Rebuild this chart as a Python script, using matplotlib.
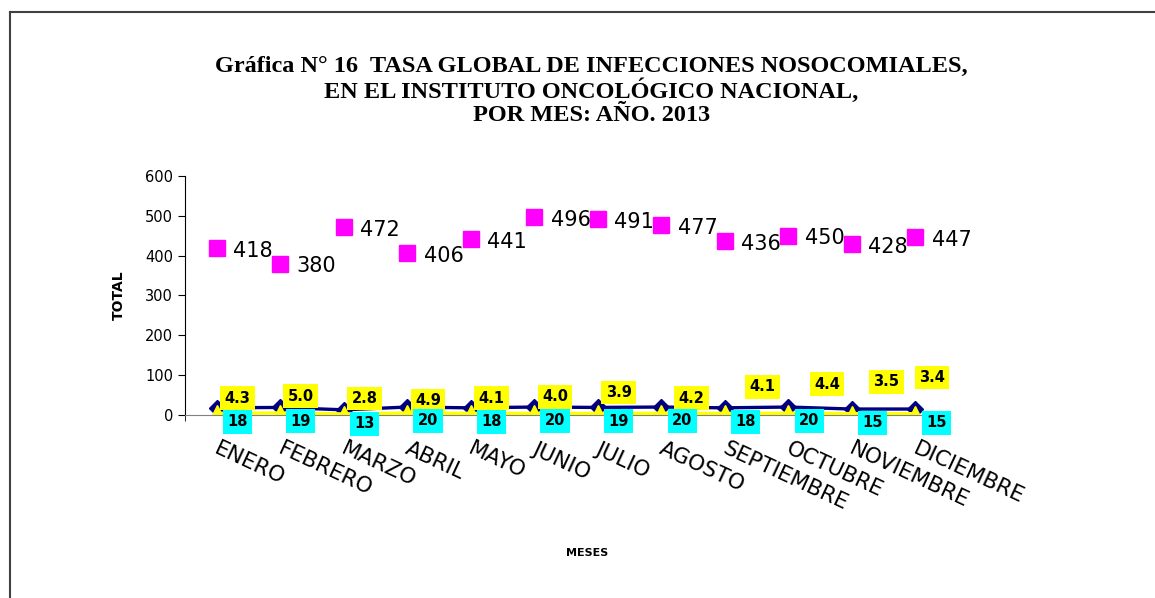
import numpy as np
import matplotlib
matplotlib.use("Agg")
import matplotlib.pyplot as plt
from matplotlib.lines import Line2D

meses = ["ENERO", "FEBRERO", "MARZO", "ABRIL", "MAYO", "JUNIO", "JULIO",
         "AGOSTO", "SEPTIEMBRE", "OCTUBRE", "NOVIEMBRE", "DICIEMBRE"]
egresos = [418, 380, 472, 406, 441, 496, 491, 477, 436, 450, 428, 447]
infecciones = [18, 19, 13, 20, 18, 20, 19, 20, 18, 20, 15, 15]
tasa = [4.3, 5.0, 2.8, 4.9, 4.1, 4.0, 3.9, 4.2, 4.1, 4.4, 3.5, 3.4]

# label offsets (points) for the yellow rate boxes
tasa_dy = [11, 12, 11, 9, 11, 12, 15, 11, 19, 21, 23, 26]
tasa_dx = [15, 15, 15, 15, 15, 15, 15, 22, 27, 28, 25, 12]

fig = plt.figure(figsize=(11.55, 5.98), dpi=100)
ax = fig.add_axes([0.160, 0.306, 0.660, 0.400])

x = np.arange(len(meses))

ax.plot(x, egresos, linestyle="none", marker="s", markersize=11,
        color="#FF00FF")
ax.plot(x, infecciones, color="#000080", linewidth=2.4, marker="D",
        markersize=8)
ax.plot(x, tasa, color="#FFFF00", linewidth=2.4, marker="^",
        markersize=12)

for xi, v in zip(x, egresos):
    ax.annotate(str(v), (xi, v), xytext=(12, -2), textcoords="offset points",
                ha="left", va="center", fontsize=15)

for xi, v, dx, dy in zip(x, tasa, tasa_dx, tasa_dy):
    ax.annotate(f"{v:.1f}", (xi, v), xytext=(dx, dy), textcoords="offset points",
                ha="center", va="center", fontsize=10.5, fontweight="bold",
                bbox=dict(boxstyle="square,pad=0.3", fc="#FFFF00", ec="none"))

for xi, v in zip(x, infecciones):
    ax.annotate(str(v), (xi, v), xytext=(15, -10), textcoords="offset points",
                ha="center", va="center", fontsize=10.5, fontweight="bold",
                bbox=dict(boxstyle="square,pad=0.3", fc="#00FFFF", ec="none"))

ax.set_xlim(-0.5, len(meses) - 0.5)
ax.set_ylim(0, 600)
ax.set_yticks(range(0, 601, 100))
ax.tick_params(axis="y", labelsize=10.5, length=5, direction="out")
ax.set_xticks(x + 0.05)
ax.set_xticklabels(meses, rotation=-25, ha="left", va="top",
                   rotation_mode="anchor", fontsize=15.5)
ax.tick_params(axis="x", length=0, pad=17)
ax.set_xticks(np.arange(-0.5, len(meses), 1), minor=True)
ax.tick_params(axis="x", which="minor", length=4)

for s in ["top", "right"]:
    ax.spines[s].set_visible(False)
ax.spines["bottom"].set_color("#808080")
ax.spines["left"].set_color("black")

ax.set_ylabel("TOTAL", fontsize=10, fontweight="bold", labelpad=14)
fig.text(0.508, 0.07, "MESES", ha="center", fontsize=8, fontweight="bold")

fig.text(0.512, 0.848, "Gráfica N° 16  TASA GLOBAL DE INFECCIONES NOSOCOMIALES,\n"
         "EN EL INSTITUTO ONCOLÓGICO NACIONAL,\nPOR MES: AÑO. 2013",
         ha="center", va="center", fontsize=17.5, fontweight="bold",
         family="Liberation Serif", linespacing=1.12)

fig.add_artist(Line2D([10 / 1155, 10 / 1155], [0, 1 - 12 / 598],
                      transform=fig.transFigure, color="#404040", lw=1.5))
fig.add_artist(Line2D([10 / 1155, 1], [1 - 12 / 598, 1 - 12 / 598],
                      transform=fig.transFigure, color="#404040", lw=1.5))

fig.savefig("out.png", dpi=100)
